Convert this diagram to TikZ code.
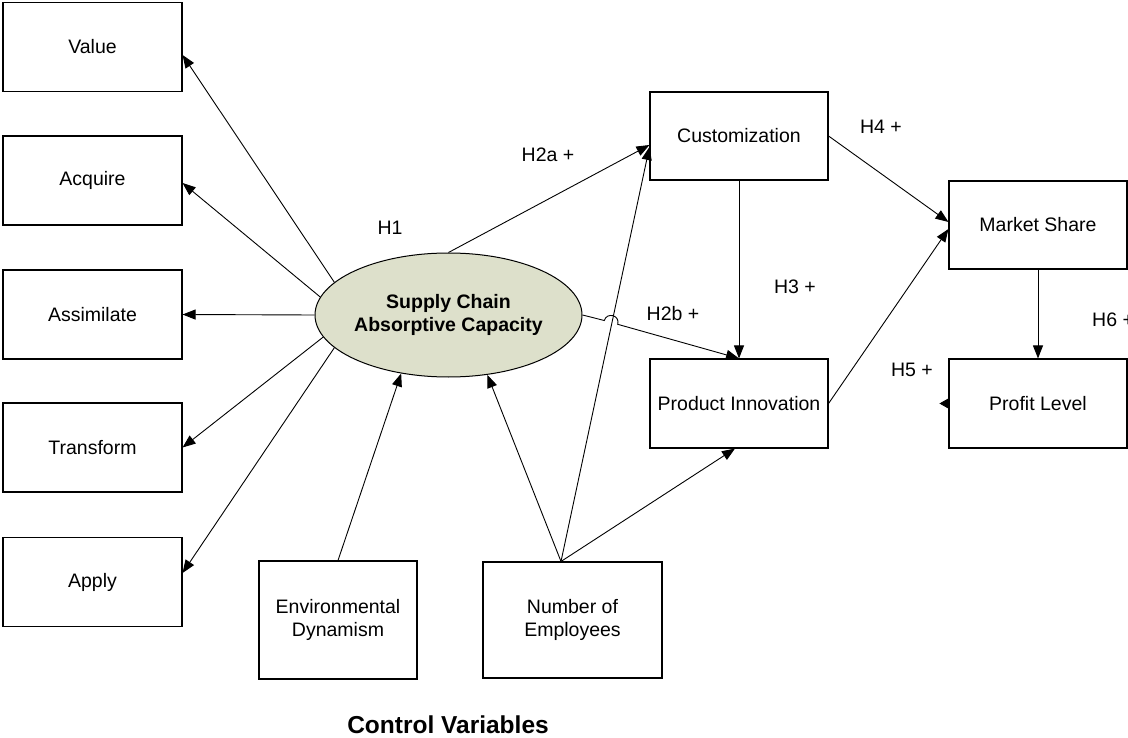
\documentclass[tikz,border=0pt]{standalone}
\usepackage{fontspec}
\setmainfont{Liberation Sans}
\usetikzlibrary{arrows.meta,shapes.geometric}
\definecolor{ellfill}{RGB}{221,224,203}
\tikzset{
  box/.style={draw,line width=1.1pt,minimum width=179pt,minimum height=89pt,inner sep=0pt,align=center,font=\fontsize{19.5}{23}\selectfont},
  lbl/.style={inner sep=0pt,font=\fontsize{19.5}{23}\selectfont},
  conn/.style={line width=0.9pt,-{Triangle[length=13pt,width=10pt]}},
}
\begin{document}
\begin{tikzpicture}[x=1pt,y=-1pt]
\useasboundingbox[fill=white] (0,0) rectangle (1128,738);
% left boxes
\node[box] (value) at (92.5,47) {Value};
\node[box] (acquire) at (92.5,180.5) {Acquire};
\node[box] (assim) at (92.5,314.5) {Assimilate};
\node[box] (transform) at (92.5,447.5) {Transform};
\node[box] (apply) at (92.5,582) {Apply};
% central ellipse
\node[ellipse,draw,line width=1pt,fill=ellfill,minimum width=267pt,minimum height=124pt,inner sep=0pt,align=center,font=\fontsize{19.5}{23}\selectfont\bfseries] (sc) at (448.5,315) {Supply Chain\\Absorptive Capacity};
% right boxes
\node[box,minimum width=178pt,minimum height=88pt] (cust) at (739,136) {Customization};
\node[box,minimum width=178pt] (pi) at (739,403.5) {Product Innovation};
\node[box,minimum width=178pt,minimum height=88pt] (ms) at (1038,225) {Market Share};
\node[box,minimum width=178pt] (profit) at (1038,403.5) {Profit Level};
% control boxes
\node[box,minimum width=158pt,minimum height=118pt] (env) at (338,620) {Environmental\\Dynamism};
\node[box,minimum width=179pt,minimum height=116pt] (noe) at (572.5,620) {Number of\\Employees};
% labels
\node[lbl] (h1) at (390,228) {H1};
\node[lbl] (h2a) at (548,155) {H2a +};
\node[lbl] (h2b) at (673,314) {H2b +};
\node[lbl] (h3) at (795,287) {H3 +};
\node[lbl] (h4) at (881,127) {H4 +};
\node[lbl] (h5) at (912,370) {H5 +};
\node[lbl,anchor=west] (h6) at (1092,320) {H6 +};
\node[inner sep=0pt,font=\fontsize{24.5}{28}\selectfont\bfseries] (cv) at (448,725) {Control Variables};
% connectors from ellipse to left boxes
\draw[conn] (sc.164.6) -- ([yshift=-8pt]value.east);
\draw[conn] (sc.172) -- ([yshift=-2.5pt]acquire.east);
\draw[conn] (sc.180) -- (assim.east);
\draw[conn] (sc.190) -- (transform.east);
\draw[conn] (sc.196.5) -- ([yshift=9pt]apply.east);
% controls
\coordinate (noetop) at ([xshift=-11.5pt]noe.north);
\draw[conn] (env.north) -- (sc.231.3);
\draw[conn] (noetop) -- (sc.303.1);
\draw[conn] (noetop) -- ([yshift=-11pt]cust.west);
\draw[conn] (noetop) -- ([xshift=-4pt]pi.south);
% hypotheses
\draw[conn] (sc.north) -- ([yshift=-9pt]cust.west);
\coordinate (hopA) at (604.3,320.5);
\coordinate (hopB) at (617.7,324.3);
\draw[conn] (sc.east) -- (hopA) .. controls (606.9,311.6) and (620.3,315.4) .. (hopB) -- (pi.north);
\draw[conn] (cust.south) -- (pi.north);
\draw[conn] (cust.east) -- ([yshift=3pt]ms.west);
\draw[conn] (pi.east) -- ([yshift=-4pt]ms.west);
\draw[conn] (ms.south) -- (profit.north);
\coordinate (pltip) at ([xshift=-9pt]profit.west);
\draw[line width=0.9pt,-{Triangle[length=9pt,width=10pt]}] (profit.west) -- (pltip);
\end{tikzpicture}
\end{document}
